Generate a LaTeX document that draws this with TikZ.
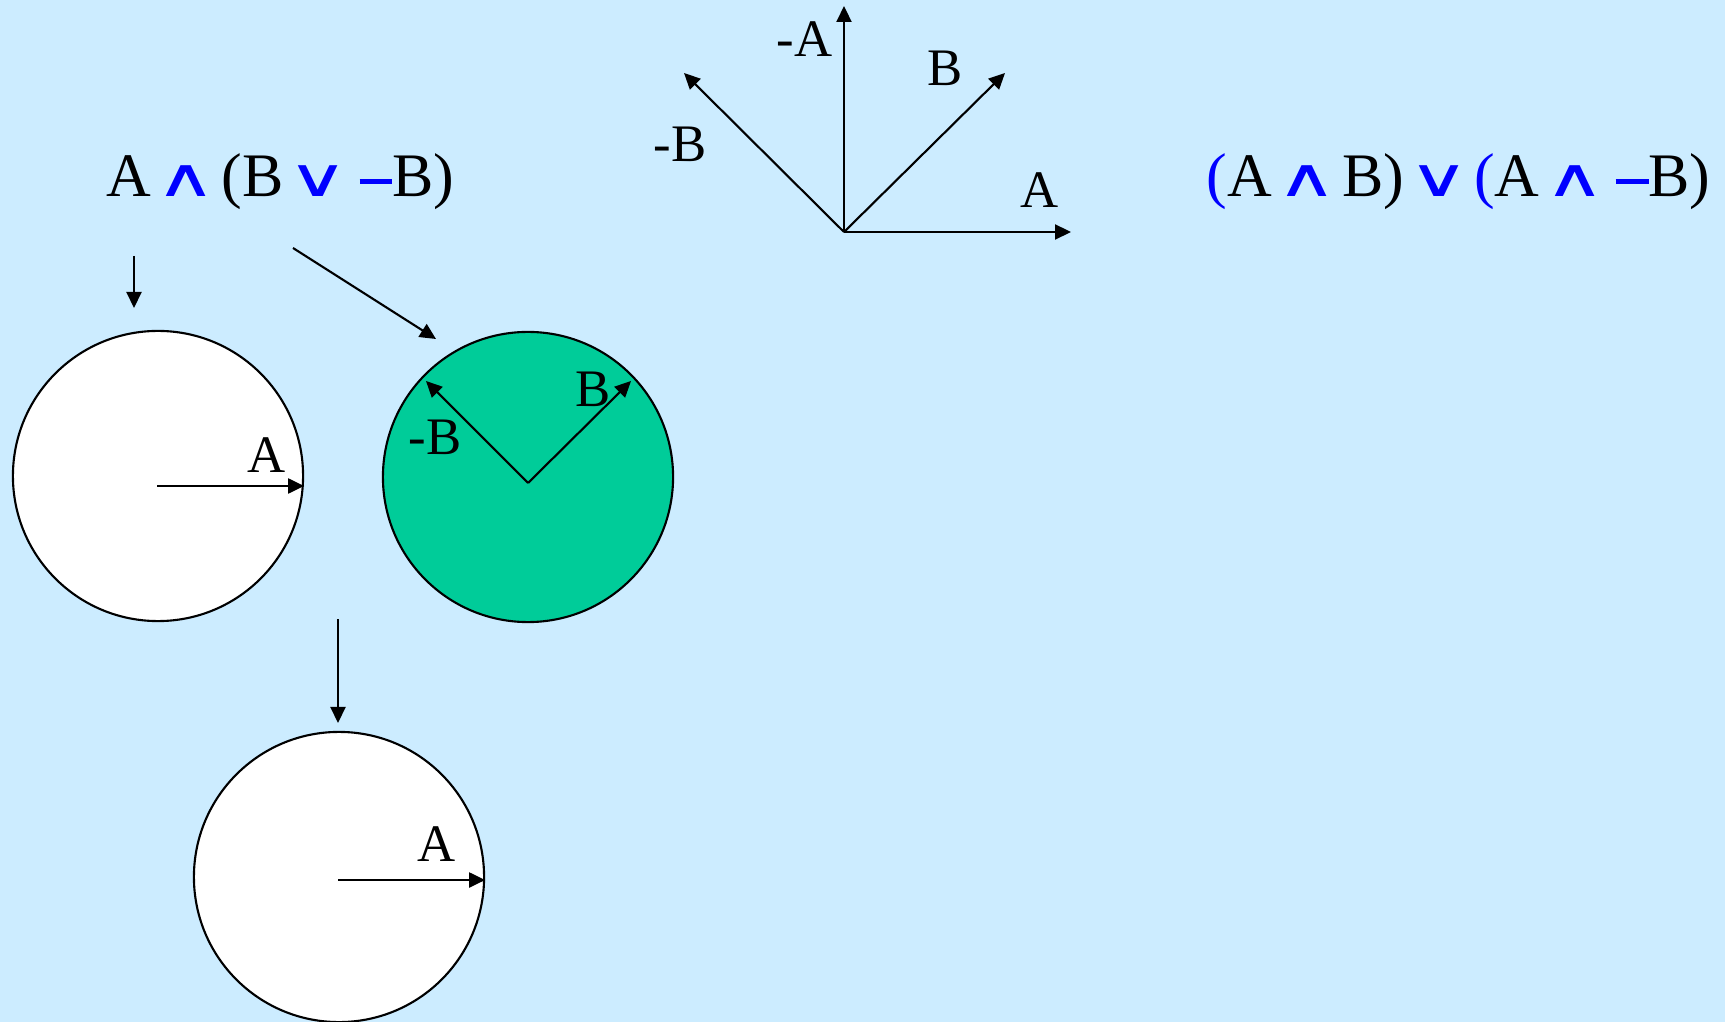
\documentclass[tikz,border=0pt]{standalone}
\usepackage{fontspec}
\usepackage{graphicx}
\setmainfont{Liberation Serif}
\newfontfamily\opfont{DejaVu Sans}
\usetikzlibrary{arrows.meta}
\definecolor{bgblue}{HTML}{CCECFF}
\definecolor{setgreen}{HTML}{00CC99}
\definecolor{opblue}{HTML}{0000FF}
\newcommand{\opsym}[1]{\hspace{0.045cm}{\color{opblue}\scalebox{1.35}[0.86]{\opfont #1}}\hspace{0.045cm}}
\newcommand{\opand}{\opsym{∧}}
\newcommand{\opor}{\opsym{∨}}
\newcommand{\opneg}{\hspace{0.06cm}{\color{opblue}\rule[0.21em]{0.53em}{0.075em}}}
\newcommand{\bpar}[1]{{\color{opblue}#1}}
\begin{document}
\begin{tikzpicture}[
    x=0.01cm, y=-0.01cm,
    vec/.style={-{Triangle[length=0.16cm,width=0.15cm]}, line width=0.6pt},
    setdisk/.style={circle, draw, line width=0.6pt, minimum size=2.9cm, inner sep=0pt},
    lbl/.style={anchor=base west, inner sep=0pt, font=\fontsize{15}{18}\selectfont},
    formula/.style={anchor=base west, inner sep=0pt, font=\fontsize{17.6}{21}\selectfont}
]
    \fill[bgblue] (0,0) rectangle (1725,1022);
    \useasboundingbox (0,0) rectangle (1725,1022);
    % formulas
    \node[formula] (lhs) at (106,197) {A\opand(B\opor\opneg B)};
    \node[formula] (rhs) at (1206,197) {\bpar{(}A\opand B)\opor\bpar{(}A\opand\opneg B)};
    % vector diagram
    \coordinate (o) at (844,232);
    \foreach \n/\x/\y in {a/1071/232, na/844/6, b/1005/73, nb/684/73} {
        \coordinate (\n) at (\x,\y);
        \draw[vec] (o) -- (\n);
    }
    \node[lbl] (la) at (1020,208) {A};
    \node[lbl] (lna) at (776,57) {-A};
    \node[lbl] (lb) at (927,86) {B};
    \node[lbl] (lnb) at (653,162) {-B};
    % sets
    \node[setdisk, fill=white] (disk1) at (158,476) {};
    \node[setdisk, fill=setgreen] (disk2) at (528,477) {};
    \node[setdisk, fill=white] (disk3) at (339,877) {};
    % vectors in the sets
    \coordinate (c1) at (157,486);
    \draw[vec] (c1) -- (c1 -| disk1.east);
    \node[lbl] (l1a) at (247,473) {A};
    \coordinate (c2) at (528,483);
    \coordinate (t2b) at (631,381);
    \coordinate (t2nb) at (426,381);
    \draw[vec] (c2) -- (t2b);
    \draw[vec] (c2) -- (t2nb);
    \node[lbl] (l2b) at (575,407) {B};
    \node[lbl] (l2nb) at (408,455) {-B};
    \coordinate (c3) at (338,880);
    \draw[vec] (c3) -- (c3 -| disk3.east);
    \node[lbl] (l3a) at (417,861) {A};
    % steps
    \coordinate (s1) at (134,256);
    \coordinate (e1) at (134,308);
    \coordinate (s2) at (293,248);
    \coordinate (e2) at (436,339);
    \coordinate (s3) at (338,619);
    \coordinate (e3) at (338,723);
    \draw[vec] (s1) -- (e1);
    \draw[vec] (s2) -- (e2);
    \draw[vec] (s3) -- (e3);
\end{tikzpicture}
\end{document}
